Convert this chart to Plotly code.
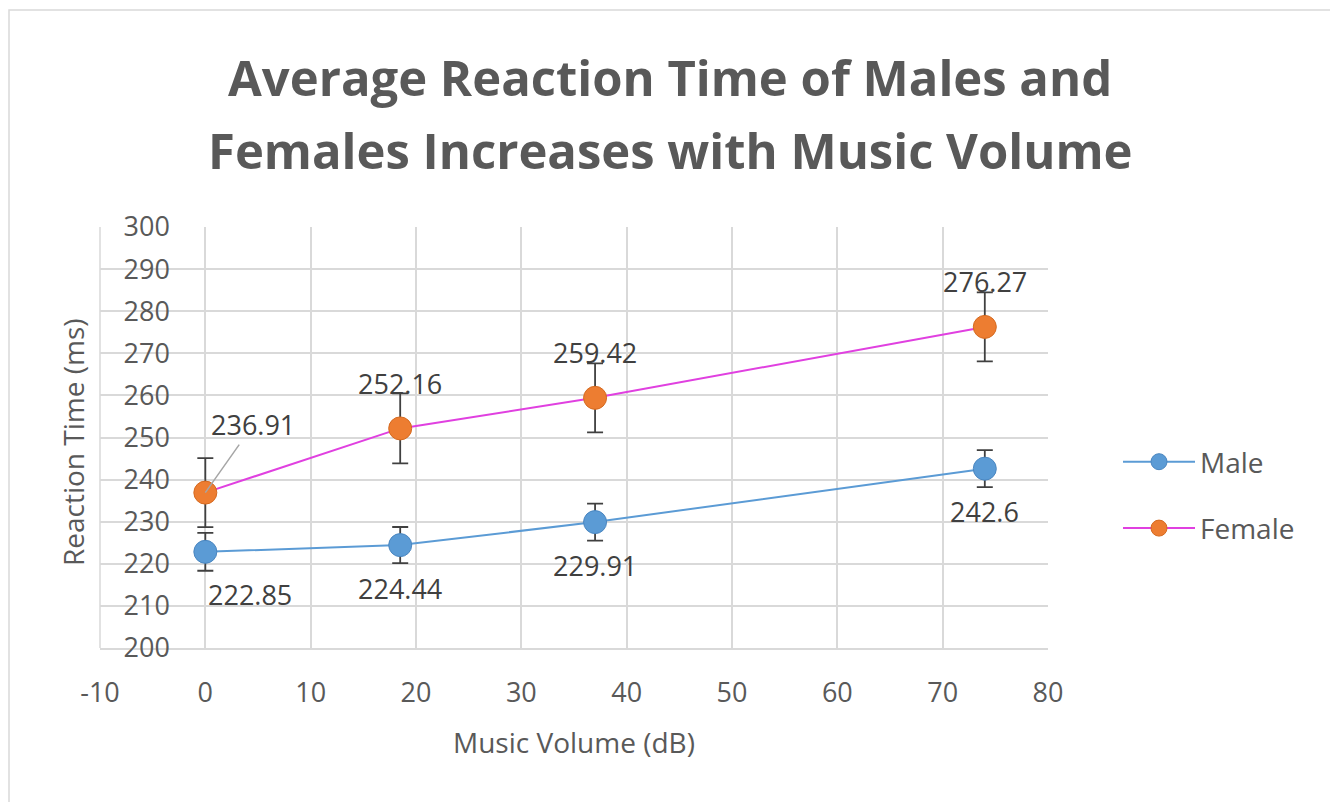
import plotly.graph_objects as go

# ---- data ----
volume_db = [0, 18.5, 37, 74]
male_rt = [222.85, 224.44, 229.91, 242.6]
female_rt = [236.91, 252.16, 259.42, 276.27]
male_err = [4.5, 4.3, 4.4, 4.4]
female_err = [8.2, 8.3, 8.2, 8.2]
x_ticks = [-10, 0, 10, 20, 30, 40, 50, 60, 70, 80]
y_ticks = [200, 210, 220, 230, 240, 250, 260, 270, 280, 290, 300]
title_lines = ["Average Reaction Time of Males and", "Females Increases with Music Volume"]

# page body has an 8px margin; lay out in reference pixels and compensate
OFF = 8
W, H = 1338 - OFF, 802 - OFF
L, R, T, B = 100, 1048, 227, 648  # plot area in reference pixels

def px(xp):
    return (xp - L) / (R - L)

def py(yp):
    return (B - yp) / (B - T)

FONT = "Open Sans"
GREY = "#595959"
BLUE = "#5B9BD5"
ORANGE = "#ED7D31"
MAGENTA = "#E040E0"

fig = go.Figure()
fig.add_trace(go.Scatter(
    x=volume_db, y=male_rt, name="Male", mode="lines+markers",
    line=dict(color=BLUE, width=2),
    marker=dict(color=BLUE, size=23, line=dict(color="#4A86C0", width=1)),
    error_y=dict(type="data", array=male_err, color="#404040", thickness=1.8, width=8),
    legendgroup="m",
))
fig.add_trace(go.Scatter(
    x=volume_db, y=female_rt, name="Female", mode="lines+markers",
    line=dict(color=MAGENTA, width=2),
    marker=dict(color=ORANGE, size=23, line=dict(color="#D56A20", width=1)),
    error_y=dict(type="data", array=female_err, color="#404040", thickness=1.8, width=8),
    legendgroup="f",
))

LBL = dict(family=FONT, size=27, color="#404040")
annotations = []
for i, (xv, yv) in enumerate(zip(volume_db, male_rt)):
    annotations.append(dict(x=xv, y=yv, xref="x", yref="y", text=f"{yv:g}",
                            showarrow=False, yshift=-43, xshift=45 if i == 0 else 0,
                            xanchor="center", yanchor="middle", font=LBL))
for i, (xv, yv) in enumerate(zip(volume_db, female_rt)):
    if i == 0:
        annotations.append(dict(x=xv, y=yv, xref="x", yref="y", text=f"{yv:g}",
                                showarrow=True, arrowhead=0, arrowwidth=1.5,
                                arrowcolor="#A6A6A6", ax=48, ay=-68, standoff=0,
                                font=LBL))
    else:
        annotations.append(dict(x=xv, y=yv, xref="x", yref="y", text=f"{yv:g}",
                                showarrow=False, yshift=45,
                                xanchor="center", yanchor="middle", font=LBL))

annotations.append(dict(x=px(574), y=py(742), xref="paper", yref="paper",
                        xanchor="center", yanchor="middle",
                        text="Music Volume (dB)", showarrow=False,
                        font=dict(family=FONT, size=28, color=GREY)))
annotations.append(dict(x=px(73), y=py(442), xref="paper", yref="paper",
                        xanchor="center", yanchor="middle",
                        text="Reaction Time (ms)", showarrow=False, textangle=-90,
                        font=dict(family=FONT, size=28, color=GREY)))
for line_text, yc in zip(title_lines, [77, 150]):
    annotations.append(dict(x=px(670), y=py(yc), xref="paper", yref="paper",
                            xanchor="center", yanchor="middle",
                            text=f"<b>{line_text}</b>", showarrow=False,
                            font=dict(family=FONT, size=49, color=GREY)))

fig.update_layout(
    width=W, height=H,
    margin=dict(l=L - OFF, r=W - (R - OFF), t=T - OFF, b=H - (B - OFF)),
    paper_bgcolor="white", plot_bgcolor="white",
    xaxis=dict(range=[-10, 80], tickvals=x_ticks, ticktext=[str(v) for v in x_ticks],
               showgrid=True, gridcolor="#D9D9D9", gridwidth=1.5, zeroline=False,
               showline=True, linecolor="#D9D9D9", linewidth=2,
               ticks="outside", ticklen=20, tickcolor="rgba(0,0,0,0)",
               tickfont=dict(family=FONT, size=27, color=GREY)),
    yaxis=dict(range=[200, 300], tickvals=y_ticks, ticktext=[str(v) for v in y_ticks],
               showgrid=True, gridcolor="#D9D9D9", gridwidth=1.5, zeroline=False,
               anchor="free", position=1 / 9, showline=False,
               ticks="outside", ticklen=30, tickcolor="rgba(0,0,0,0)",
               tickfont=dict(family=FONT, size=27, color=GREY)),
    legend=dict(x=px(1118), y=py(495), xanchor="left", yanchor="middle",
                font=dict(family=FONT, size=28, color=GREY),
                tracegroupgap=27, itemwidth=72, bgcolor="rgba(0,0,0,0)"),
    annotations=annotations,
    shapes=[
        dict(type="rect", xref="paper", yref="paper",
             x0=px(9), x1=px(1336), y0=py(815), y1=py(10),
             line=dict(color="#D9D9D9", width=1.5), layer="below"),
        dict(type="line", xref="paper", yref="paper", x0=0, x1=0, y0=0, y1=1,
             line=dict(color="#D9D9D9", width=1.5), layer="below"),
    ],
)

fig.write_html("out.html")
